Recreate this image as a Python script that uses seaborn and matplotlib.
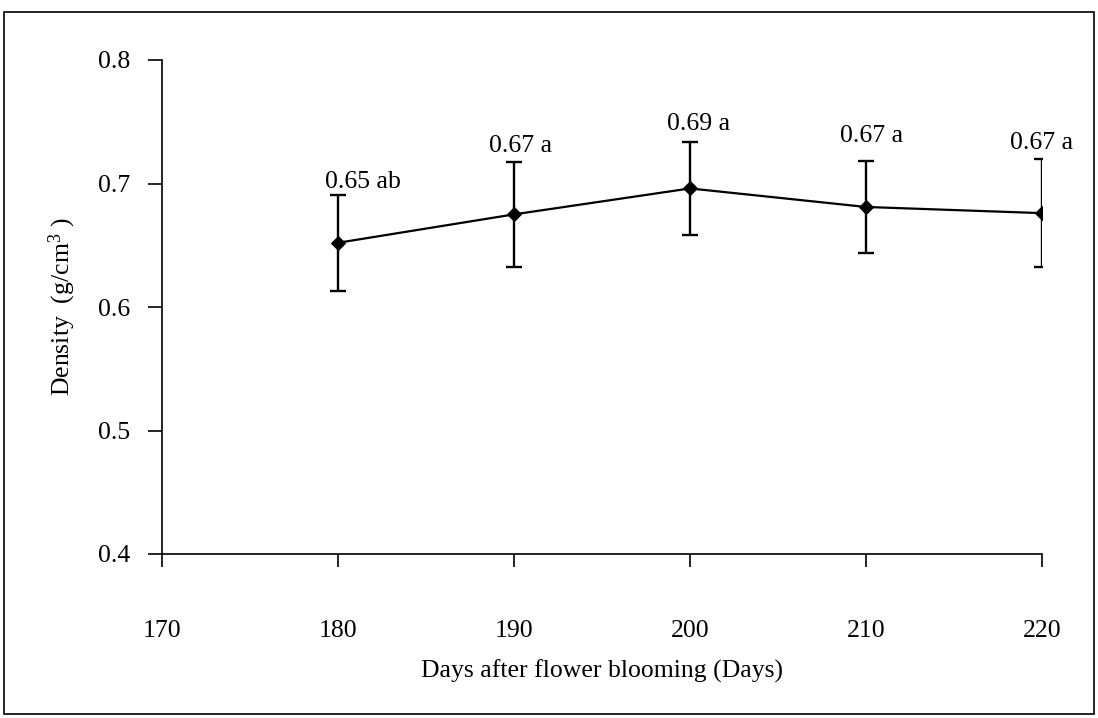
import matplotlib
matplotlib.use("Agg")
import matplotlib.pyplot as plt
import seaborn as sns
import pandas as pd
from matplotlib.patches import Rectangle

days = [180, 190, 200, 210, 220]
density = [0.652, 0.675, 0.696, 0.681, 0.676]
sd = [0.039, 0.0425, 0.038, 0.037, 0.0435]
point_labels = ["0.65 ab", "0.67 a", "0.69 a", "0.67 a", "0.67 a"]
label_dx = [25, 7, 9, 6, 0]      # pixel offsets of labels
label_dy = [7, 10, 12, 19, 10]
xticks = [170, 180, 190, 200, 210, 220]
yticks = [0.4, 0.5, 0.6, 0.7, 0.8]

sns.set_theme(style="ticks")
plt.rcParams["font.family"] = ["Liberation Serif", "DejaVu Serif"]
plt.rcParams["mathtext.fontset"] = "custom"
plt.rcParams["mathtext.rm"] = "Liberation Serif"
plt.rcParams["mathtext.it"] = "Liberation Serif:italic"
plt.rcParams["mathtext.bf"] = "Liberation Serif:bold"

fig = plt.figure(figsize=(10.98, 7.18), dpi=100)
ax = fig.add_axes([162 / 1098, 1 - 554 / 718, 880 / 1098, 494 / 718])

df = pd.DataFrame({"days": days, "density": density})
ax.errorbar(days, density, yerr=sd, fmt="none", ecolor="black",
            elinewidth=1.7, capsize=5.5, capthick=1.7, zorder=2)
sns.lineplot(data=df, x="days", y="density", ax=ax, color="black",
             linewidth=1.6, marker="D", markersize=7.5, markeredgecolor="black",
             markerfacecolor="black", zorder=3)

for x, y, e, lab, dx, dy in zip(days, density, sd, point_labels, label_dx, label_dy):
    ax.annotate(lab, xy=(x, y + e), xytext=(dx, dy), textcoords="offset pixels",
                ha="center", va="baseline", fontsize=18.5, color="black")

ax.set_xlim(170, 220)
ax.set_ylim(0.4, 0.8)
ax.set_xticks(xticks)
ax.set_xticklabels([str(t) for t in xticks])
ax.set_yticks(yticks)
ax.set_yticklabels([f"{t:.1f}" for t in yticks])
ax.tick_params(axis="x", direction="out", length=9.5, width=1.2, pad=38,
               labelsize=18.5, colors="black")
ax.tick_params(axis="y", direction="out", length=10, width=1.2, pad=13,
               labelsize=18.5, colors="black")
for s in ["top", "right"]:
    ax.spines[s].set_visible(False)
for s in ["left", "bottom"]:
    ax.spines[s].set_linewidth(1.2)
    ax.spines[s].set_color("black")
ax.set_facecolor("white")

ax.set_xlabel("Days after flower blooming (Days)", fontsize=18.5, labelpad=13,
              color="black")
ax.set_ylabel(r"Density  (g/cm$^{\mathregular{3}}$ )", fontsize=18.5,
              labelpad=14, color="black")

fig.patches.append(Rectangle((4 / 1098, 4 / 718), 1090 / 1098, 702 / 718,
                             transform=fig.transFigure, fill=False,
                             edgecolor="black", linewidth=1.2))

fig.savefig("out.png", dpi=100, facecolor="white")
